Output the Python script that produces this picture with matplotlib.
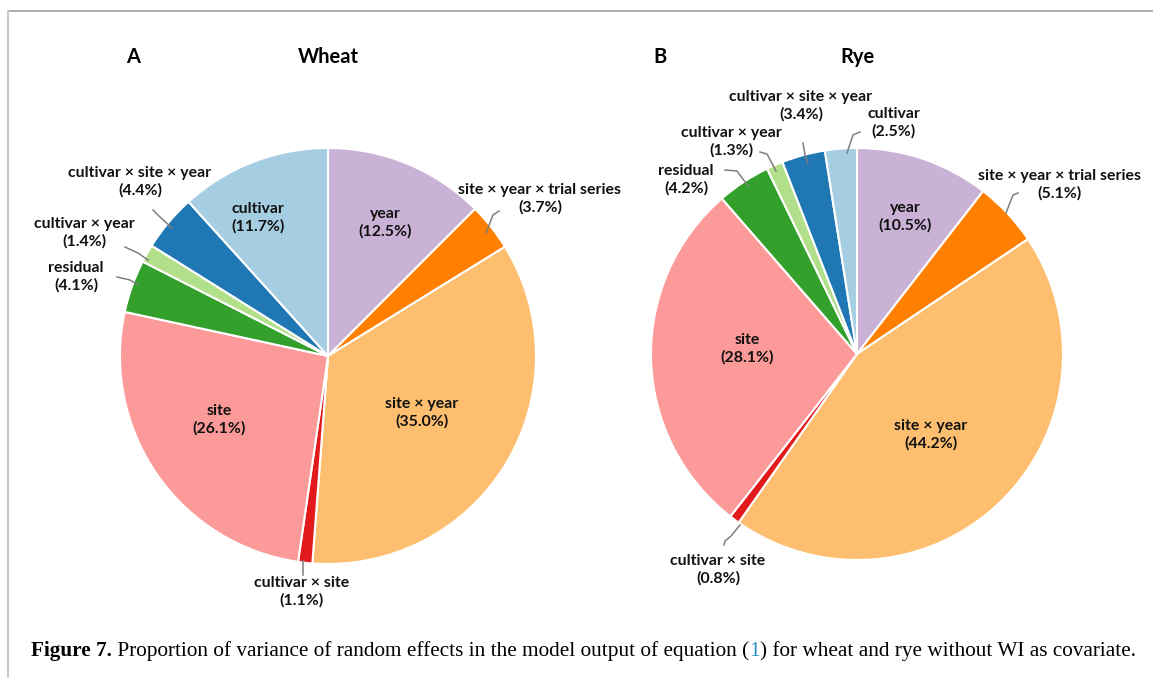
import matplotlib.pyplot as plt
from matplotlib.lines import Line2D

# variance components, clockwise from 12 o'clock
components = ['year', 'site \u00d7 year \u00d7 trial series', 'site \u00d7 year',
              'cultivar \u00d7 site', 'site', 'residual', 'cultivar \u00d7 year',
              'cultivar \u00d7 site \u00d7 year', 'cultivar']
wheat_pct = [12.5, 3.7, 35.0, 1.1, 26.1, 4.1, 1.4, 4.4, 11.7]
rye_pct = [10.5, 5.1, 44.2, 0.8, 28.1, 4.2, 1.3, 3.4, 2.5]
colors = ['#cab2d6', '#ff7f00', '#fdbf6f', '#e31a1c', '#fb9a99',
          '#33a02c', '#b2df8a', '#1f78b4', '#a6cee3']

W, H = 1153, 678

# label centres in pixels (x, y from top)
wheat_lbl = [(385, 223), (540, 199), (422, 413), (302, 592), (219, 420),
             (76, 277), (84, 233), (140, 182), (258, 218)]
rye_lbl = [(905, 217), (1059, 185), (931, 435), (718, 570), (747, 349),
           (686, 180), (731, 142), (801, 106), (894, 123)]

# leader lines for the small slices (pixel polylines)
wheat_leaders = [
    [(499, 211), (493, 215), (486, 233)],
    [(303, 575), (303, 561)],
    [(117, 277), (130, 280), (138, 285)],
    [(125, 247), (138, 253), (148, 260)],
    [(153, 210), (160, 217), (172, 228)],
]
rye_leaders = [
    [(1018, 193), (1013, 195), (1006, 213)],
    [(724, 545), (725, 541), (731, 536), (740, 525)],
    [(725, 170), (737, 171), (748, 186)],
    [(760, 152), (767, 154), (776, 171)],
    [(803, 143), (805, 155), (808, 163)],
    [(860, 132), (853, 135), (847, 153)],
]

sans = ['Lato', 'DejaVu Sans']
label_font = dict(family=sans, fontweight='bold', fontsize=11.4, color='#111111')


def draw_pie(cx, cy, r, values, label_pos, leaders, title, letter, letter_x):
    span = 1.6
    ax = fig.add_axes([(cx - span * r) / W, (H - cy - span * r) / H,
                       2 * span * r / W, 2 * span * r / H])
    ax.pie(values, colors=colors, startangle=90, counterclock=False, radius=1,
           wedgeprops=dict(edgecolor='white', linewidth=1.5))
    ax.set_xlim(-span, span)
    ax.set_ylim(-span, span)
    ax.axis('off')

    def to_ax(px, py):
        return (px - cx) / r, (cy - py) / r

    for name, v, (px, py) in zip(components, values, label_pos):
        x, y = to_ax(px, py)
        ax.text(x, y, f'{name}\n({v:.1f}%)', ha='center', va='center',
                linespacing=1.3, clip_on=False, **label_font)
    for pts in leaders:
        xs, ys = zip(*[to_ax(px, py) for px, py in pts])
        ax.add_line(Line2D(xs, ys, color='#7f7f7f', lw=1.1, clip_on=False))

    fig.text(cx / W, 1 - 57 / H, title, ha='center', va='center',
             family=sans, fontweight='bold', fontsize=14.5)
    fig.text(letter_x / W, 1 - 57 / H, letter, ha='center', va='center',
             family=sans, fontweight='bold', fontsize=14.5)


fig = plt.figure(figsize=(W / 100, H / 100), dpi=100)

# thin frame around the panel (top and left edges)
fig.add_artist(Line2D([8 / W, 1], [1 - 11 / H, 1 - 11 / H], color='#a0a0a0', lw=1.2))
fig.add_artist(Line2D([8 / W, 8 / W], [0, 1 - 11 / H], color='#c8c8c8', lw=1.5))

draw_pie(328, 356, 208, wheat_pct, wheat_lbl, wheat_leaders, 'Wheat', 'A', 133)
draw_pie(857, 354, 206, rye_pct, rye_lbl, rye_leaders, 'Rye', 'B', 660)

# caption, built piece by piece so the reference number can be coloured
caption = [
    ('Figure 7.', 'bold', 'black'),
    (' Proportion of variance of random effects in the model output of equation (', 'normal', 'black'),
    ('1', 'normal', '#2b8cc4'),
    (') for wheat and rye without WI as covariate.', 'normal', 'black'),
]
renderer = fig.canvas.get_renderer()
x = 31
for s, weight, col in caption:
    t = fig.text(x / W, 1 - 651 / H, s, ha='left', va='center', fontsize=15.3,
                 family=['Liberation Serif', 'DejaVu Serif'], fontweight=weight,
                 color=col)
    bb = t.get_window_extent(renderer)
    x += bb.width

fig.savefig('out.png', dpi=100)
